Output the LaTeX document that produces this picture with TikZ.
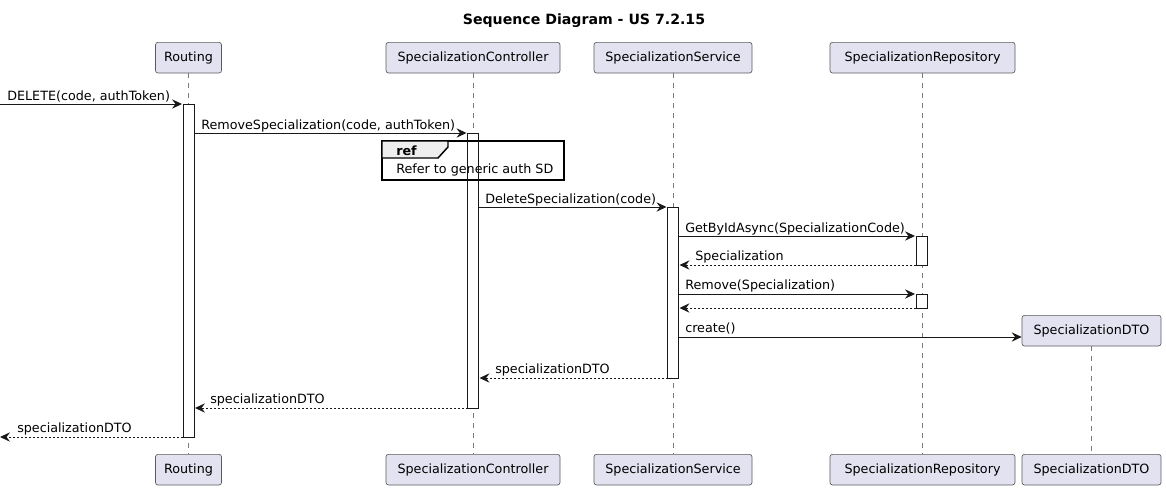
\documentclass[tikz,border=0pt]{standalone}
\usepackage{fontspec}
\setmainfont{DejaVu Sans}
\usetikzlibrary{arrows.meta}
\definecolor{partfill}{HTML}{E2E2F0}
\definecolor{partline}{HTML}{5B5B5B}
\definecolor{lifecol}{HTML}{7A7A7A}
\definecolor{msgcol}{HTML}{181818}
\definecolor{tabfill}{HTML}{EEEEEE}
\begin{document}
\begin{tikzpicture}[x=0.75pt,y=-0.75pt,
  txt/.style={font=\fontsize{9.55}{11.5}\selectfont, text=black},
  part/.style={txt, draw=partline, fill=partfill, rounded corners=1.9pt, line width=0.5pt,
    minimum height=23pt, inner sep=0pt, anchor=north},
  life/.style={draw=lifecol, line width=0.5pt, dash pattern=on 3.75pt off 3.75pt},
  act/.style={draw=msgcol, fill=white, line width=0.75pt},
  msg/.style={draw=msgcol, line width=0.75pt, -{Stealth[length=7.5pt,width=7pt,inset=2.6pt]}},
  ret/.style={draw=msgcol, line width=0.75pt, dash pattern=on 1.5pt off 1.5pt,
    -{Stealth[length=7.5pt,width=7pt,inset=2.6pt]}},
  lbl/.style={txt, anchor=base west, inner sep=0pt}]
\useasboundingbox (0,0) rectangle (1166,489);
\node[font=\fontsize{10.6}{12}\selectfont\bfseries] (title) at (584,21) {Sequence Diagram - US 7.2.15};

% participants top
\node[part, minimum width=49.5pt] (rt) at (188.5,42) {Routing};
\node[part, minimum width=130.5pt] (ct) at (473,42) {SpecializationController};
\node[part, minimum width=118.5pt] (st) at (673,42) {SpecializationService};
\node[part, minimum width=138.75pt] (pt) at (922.5,42) {SpecializationRepository};
\node[part, minimum width=104.25pt] (dto) at (1091.5,315) {SpecializationDTO};
% participants bottom
\node[part, minimum width=49.5pt] (rb) at (188.5,454) {Routing};
\node[part, minimum width=130.5pt] (cb) at (473,454) {SpecializationController};
\node[part, minimum width=118.5pt] (sb) at (673,454) {SpecializationService};
\node[part, minimum width=138.75pt] (pb) at (922.5,454) {SpecializationRepository};
\node[part, minimum width=104.25pt] (db) at (1091.5,454) {SpecializationDTO};

% lifelines
\draw[life] (rt.south) -- (rb.north);
\draw[life] (ct.south) -- (cb.north);
\draw[life] (st.south) -- (sb.north);
\draw[life] (pt.south) -- (pb.north);
\draw[life] (dto.south) -- (db.north);

% activations
\draw[act] (183,104) rectangle (194,437);
\draw[act] (467.5,133) rectangle (478.5,408);
\draw[act] (667.5,207) rectangle (678.5,378);
\draw[act] (916,236) rectangle (927,265);
\draw[act] (916,294) rectangle (927,308);

% named end points
\coordinate (in) at (0,104);
\coordinate (out) at (0,437);
\coordinate (r1) at (182,104);
\coordinate (r2) at (194,133);
\coordinate (c2) at (466.5,133);
\coordinate (c3) at (478.5,207);
\coordinate (s3) at (666.5,207);
\coordinate (s4) at (678.5,236);
\coordinate (p4) at (915,236);
\coordinate (p5) at (916,265);
\coordinate (s5) at (679.5,265);
\coordinate (s6) at (678.5,294);
\coordinate (p6) at (915,294);
\coordinate (p7) at (916,308);
\coordinate (s7) at (679.5,308);
\coordinate (s8) at (678.5,337);
\coordinate (s9) at (667.5,378);
\coordinate (c9) at (479.5,378);
\coordinate (c10) at (467.5,408);
\coordinate (r10) at (195,408);
\coordinate (r11) at (183,437);

% messages
\draw[msg] (in) -- (r1);
\node[lbl] (m1) at (7,100) {DELETE(code, authToken)};
\draw[msg] (r2) -- (c2);
\node[lbl] (m2) at (201,129) {RemoveSpecialization(code, authToken)};

% ref frame
\draw[draw=black, fill=white, line width=1.1pt] (382,141) rectangle (564,180);
\draw[draw=black, fill=tabfill, line width=1.1pt] (382,141) -- (448,141) -- (448,147) -- (438,158) -- (382,158) -- cycle;
\node[txt, font=\fontsize{9.55}{11.5}\selectfont\bfseries, anchor=base west, inner sep=0pt] (refl) at (396,155) {ref};
\node[lbl] (reft) at (396,173) {Refer to generic auth SD};
% activation of controller shows through
\draw[draw=msgcol, line width=0.75pt] (467.5,141) -- (467.5,180) (478.5,141) -- (478.5,180);

\draw[msg] (c3) -- (s3);
\node[lbl] (m3) at (485,203) {DeleteSpecialization(code)};
\draw[msg] (s4) -- (p4);
\node[lbl] (m4) at (685,232) {GetByIdAsync(SpecializationCode)};
\draw[ret] (p5) -- (s5);
\node[lbl] (m5) at (695,260) {Specialization};
\draw[msg] (s6) -- (p6);
\node[lbl] (m6) at (685,289) {Remove(Specialization)};
\draw[ret] (p7) -- (s7);
\draw[msg] (s8) -- (dto.west |- s8);
\node[lbl] (m8) at (685,332) {create()};
\draw[ret] (s9) -- (c9);
\node[lbl] (m9) at (495,373) {specializationDTO};
\draw[ret] (c10) -- (r10);
\node[lbl] (m10) at (210,403) {specializationDTO};
\draw[ret] (r11) -- (out);
\node[lbl] (m11) at (17,432) {specializationDTO};
\end{tikzpicture}
\end{document}
